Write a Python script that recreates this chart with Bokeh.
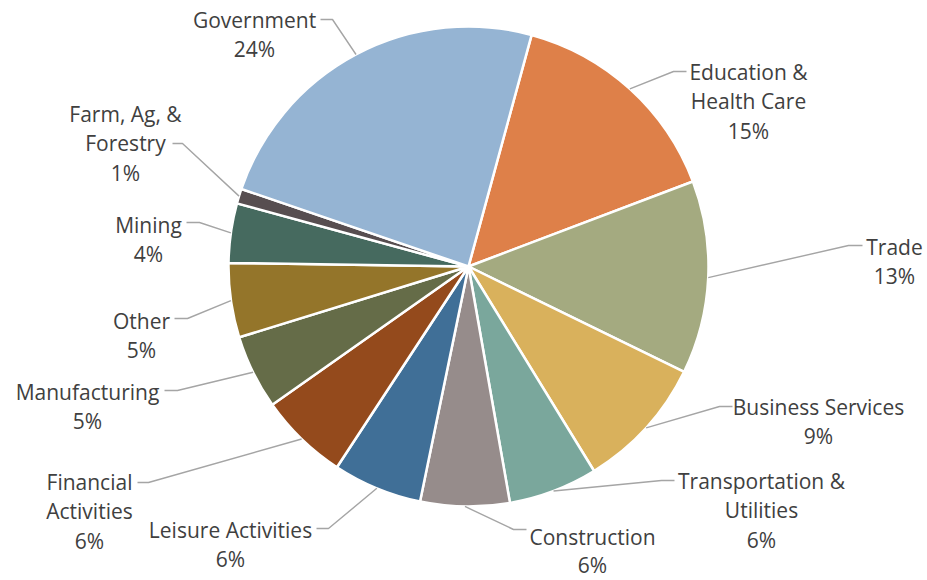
import math
from bokeh.plotting import figure
from bokeh.models import Range1d, ColumnDataSource
from bokeh.core.properties import value
from bokeh.embed import file_html
from bokeh.resources import INLINE

# ---- data (clockwise order, starting after Government) ----
sectors = ["Education & Health Care", "Trade", "Business Services",
           "Transportation & Utilities", "Construction", "Leisure Activities",
           "Financial Activities", "Manufacturing", "Other", "Mining",
           "Farm, Ag, & Forestry", "Government"]
shares = [15, 13, 9, 6, 6, 6, 6, 5, 5, 4, 1, 24]
label_lines = [["Education &", "Health Care"], ["Trade"], ["Business Services"],
               ["Transportation &", "Utilities"], ["Construction"], ["Leisure Activities"],
               ["Financial", "Activities"], ["Manufacturing"], ["Other"], ["Mining"],
               ["Farm, Ag, &", "Forestry"], ["Government"]]
colors = ["#de8049", "#a4aa80", "#d9b15c", "#7aa79c", "#968c8b", "#406f97",
          "#944a1c", "#656c48", "#94752a", "#466a5f", "#574e50", "#95b4d3"]

# ---- layout (screen pixels) ----
W, H = 927, 580
Y_OFF = 8
CX, CY, R = 468, 274, 240
START_DEG = 74.75
# label block: centre x, first baseline y, elbow (x, y), end x of leader
label_cx = [748, 894, 818, 761, 592, 230, 89, 87, 141, 148, 125, 254]
label_by = [79, 254, 414, 488, 544, 537, 489, 399, 328, 232, 121, 27]
elbow_x = [673, 848, 719, 661, 513, 328, 148, 177, 187, 199, 182, 332]
elbow_y = [79, 253, 414, 488, 537, 536, 490, 398, 326, 230, 151, 27]
end_x = [686, 862, 732, 674, 526, 316, 137, 164, 174, 186, 172, 320]
LINE_H = 29.7
LAST_LINE_H = [29.7, 29.7, 29.7, 29.7, 28.5, 29.7, 29.7, 29.7, 29.7, 29.7, 29.7, 29.7]


def fy(py):
    return H - py


total = sum(shares)
starts, ends, mids = [], [], []
cum = 0.0
for s in shares:
    a0 = START_DEG - cum / total * 360.0
    a1 = a0 - s / total * 360.0
    starts.append(a0)
    ends.append(a1)
    mids.append((a0 + a1) / 2)
    cum += s

p = figure(width=W, height=H, x_range=Range1d(0, W), y_range=Range1d(-Y_OFF, H - Y_OFF),
           x_axis_type=None, y_axis_type=None, toolbar_location=None,
           output_backend="svg", min_border=0)
p.outline_line_color = None
p.grid.visible = False
p.background_fill_color = "white"

src = ColumnDataSource(dict(x=[CX] * len(shares), y=[fy(CY)] * len(shares),
                            start=starts, end=ends, color=colors, name=sectors))
p.wedge(x="x", y="y", radius=R, start_angle="start", end_angle="end",
        start_angle_units="deg", end_angle_units="deg", direction="clock",
        fill_color="color", line_color="white", line_width=2.5, source=src)

# leader lines
xs, ys = [], []
for i, m in enumerate(mids):
    px = CX + R * math.cos(math.radians(m))
    py = CY - R * math.sin(math.radians(m))
    xs.append([px, elbow_x[i], end_x[i]])
    ys.append([fy(py), fy(elbow_y[i]), fy(elbow_y[i])])
p.multi_line(xs=xs, ys=ys, line_color="#a5a5a5", line_width=1.4)

# labels
tx, ty, tt = [], [], []
for i, lines in enumerate(label_lines):
    allines = lines + ["%d%%" % shares[i]]
    n = len(allines)
    for k, t in enumerate(allines):
        off = k * LINE_H if k < n - 1 else (k - 1) * LINE_H + LAST_LINE_H[i]
        tx.append(label_cx[i])
        ty.append(fy(label_by[i] + off))
        tt.append(t)
p.text(x=tx, y=ty, text=tt, text_align="center", text_baseline="alphabetic",
       text_font=value("Open Sans"), text_font_size="21px", text_color="#404040")

open("out.html", "w").write(file_html(p, INLINE))
